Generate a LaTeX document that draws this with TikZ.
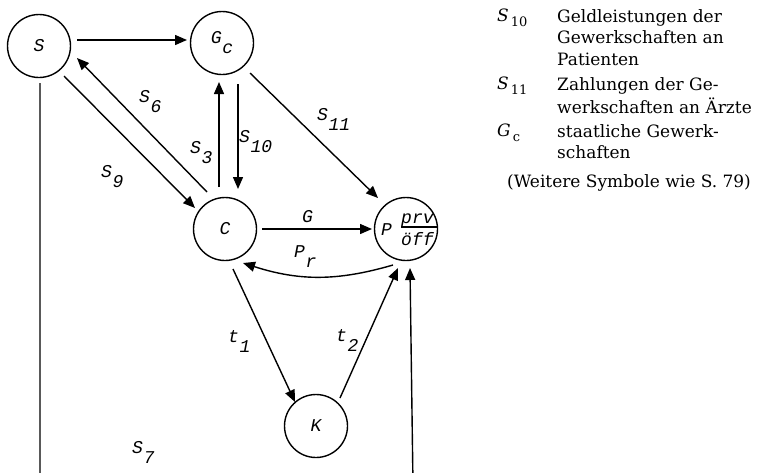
\documentclass[tikz,border=0pt]{standalone}
\usepackage{fontspec}
\setmainfont{DejaVu Serif}
\newfontfamily\dg{Liberation Mono}
\usetikzlibrary{arrows.meta,calc}
\newcommand\lsub[2]{#1\kern0.5pt\raisebox{-10pt}{#2}}
\newcommand\gsub[2]{{\itshape #1}\kern2pt\raisebox{-5pt}{\fontsize{13}{13}\selectfont #2}}
\begin{document}
\begin{tikzpicture}[x=1pt,y=-1pt,
  st/.style={circle,draw,line width=1.4pt,minimum size=63pt,inner sep=0pt,font=\dg\itshape\fontsize{18}{20}\selectfont},
  ar/.style={line width=1.4pt,-{Triangle[length=12pt,width=10pt]}},
  lb/.style={font=\dg\itshape\fontsize{18}{20}\selectfont,inner sep=0pt,anchor=base west},
  fr/.style={font=\dg\itshape\fontsize{18}{20}\selectfont,inner sep=0pt,anchor=base west},
  lg/.style={font=\fontsize{17}{20}\selectfont,inner sep=0pt,anchor=base west}]
\useasboundingbox (0,0) rectangle (765,472);
\clip (0,0) rectangle (765,472);
% nodes
\node[st] (S) at (39,46) {S};
\node[st] (Gc) at (222,43) {\lsub{G}{c}};
\node[st] (C) at (225,229) {C};
\node[st] (P) at (406,229) {};
\node[st] (K) at (316,426) {K};
% P contents
\node[lb] (Pl) at (381,235) {P};
\node[fr] (prv) at (401,223) {prv};
\node[fr] (off) at (401,245) {öff};
\draw[line width=1.3pt] ($(P)+(-5,-2)$) -- ($(P)+(31,-2)$);
% connectors
\draw[ar] ($(S)+(38,-6)$) -- ($(Gc)+(-35,-3)$);
\draw[ar] ($(C)+(-18,-37)$) -- ($(S)+(38,12)$);
\draw[ar] ($(S)+(25,30)$) -- ($(C)+(-30,-21)$);
\draw[ar] ($(C)+(-6,-42)$) -- ($(Gc)+(-3,39)$);
\draw[ar] ($(Gc)+(16,41)$) -- ($(C)+(13,-40)$);
\draw[ar] ($(Gc)+(28,30)$) -- ($(P)+(-28,-31)$);
\draw[ar] ($(C)+(37,0)$) -- ($(P)+(-34,0)$);
\draw[ar] ($(P)+(-13,36)$) to[bend left=17] ($(C)+(18,34)$);
\draw[ar] ($(C)+(8,40)$) -- ($(K)+(-21,-24)$);
\draw[ar] ($(K)+(24,-28)$) -- ($(P)+(-8,39)$);
\coordinate (b1) at (40,485);
\coordinate (b2) at (413,485);
\draw[ar] ($(S)+(1,37)$) -- (b1) -- (b2) -- ($(P)+(4,39)$);
% labels
\node[lb] (l6) at (139,102) {\lsub{S}{6}};
\node[lb] (l3) at (190,153) {\lsub{S}{3}};
\node[lb] (l10) at (239,142) {\lsub{S}{10}};
\node[lb] (l9) at (101,177) {\lsub{S}{9}};
\node[lb] (l11) at (317,120) {\lsub{S}{11}};
\node[lb] (lG) at (302,222) {G};
\node[lb] (lPr) at (294,257) {\lsub{P}{r}};
\node[lb] (lt1) at (228,342) {\lsub{t}{1}};
\node[lb] (lt2) at (336,341) {\lsub{t}{2}};
\node[lb] (l7) at (132,453) {\lsub{S}{7}};
% legend
\node[lg] (k1) at (497,21) {\gsub{S}{10}};
\node[lg] (t1) at (557,22) {Geldleistungen der};
\node[lg] (t2) at (557,43) {Gewerkschaften an};
\node[lg] (t3) at (557,65) {Patienten};
\node[lg] (k2) at (497,89) {\gsub{S}{11}};
\node[lg] (t4) at (557,90) {Zahlungen der Ge-};
\node[lg] (t5) at (557,113) {werkschaften an Ärzte};
\node[lg] (k3) at (497,136) {\gsub{G}{c}};
\node[lg] (t6) at (557,137) {staatliche Gewerk-};
\node[lg] (t7) at (557,158) {schaften};
\node[lg] (t8) at (507,187) {(Weitere Symbole wie S. 79)};
\end{tikzpicture}
\end{document}
